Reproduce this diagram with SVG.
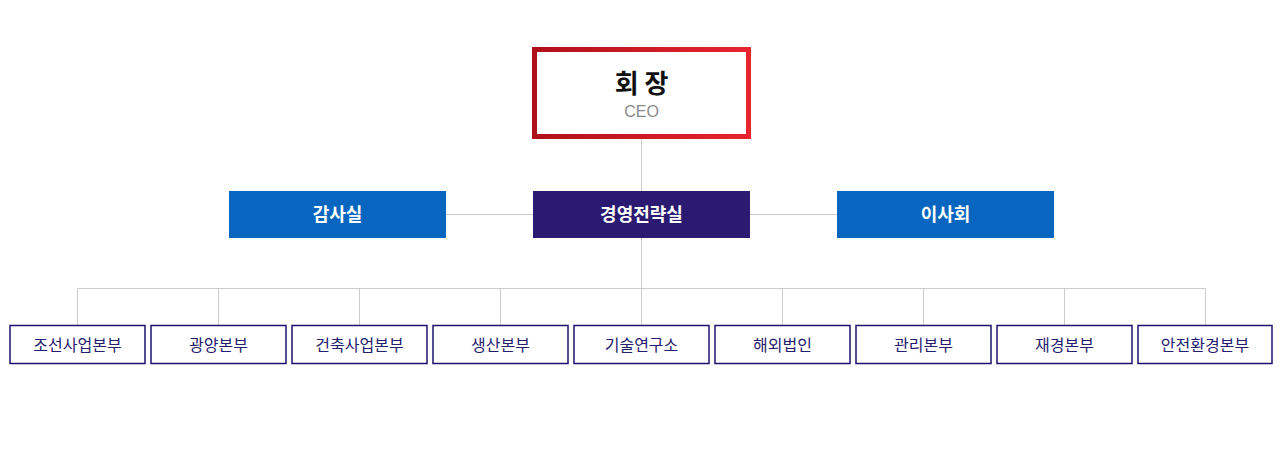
<svg xmlns="http://www.w3.org/2000/svg" width="1280" height="450" viewBox="0 0 1280 450">
<defs>
<linearGradient id="redGrad" x1="0" y1="0" x2="1" y2="0">
<stop offset="0" stop-color="#b0101a"/>
<stop offset="1" stop-color="#e8242f"/>
</linearGradient>
<style>
.ln{stroke:#cccccc;stroke-width:1;fill:none}
.mid{font-family:"Noto Sans CJK KR","Noto Sans",sans-serif;font-weight:700;font-size:18px;fill:#ffffff;text-anchor:middle}
.dept rect{fill:#ffffff;stroke:#1c136e;stroke-width:1.5}
.dept text{font-family:"Noto Sans CJK KR","Noto Sans",sans-serif;font-size:16px;fill:#25206e;text-anchor:middle}
</style>
</defs>
<rect width="1280" height="450" fill="#ffffff"/>
<g id="connectors">
<line class="ln" x1="641.5" y1="139" x2="641.5" y2="288.5"/>
<line class="ln" x1="446" y1="214.5" x2="533" y2="214.5"/>
<line class="ln" x1="750" y1="214.5" x2="837" y2="214.5"/>
<line class="ln" x1="77.5" y1="288.5" x2="1205.5" y2="288.5"/>
<line class="ln" x1="77.5" y1="288.5" x2="77.5" y2="325"/>
<line class="ln" x1="218.5" y1="288.5" x2="218.5" y2="325"/>
<line class="ln" x1="359.5" y1="288.5" x2="359.5" y2="325"/>
<line class="ln" x1="500.5" y1="288.5" x2="500.5" y2="325"/>
<line class="ln" x1="641.5" y1="288.5" x2="641.5" y2="325"/>
<line class="ln" x1="782.5" y1="288.5" x2="782.5" y2="325"/>
<line class="ln" x1="923.5" y1="288.5" x2="923.5" y2="325"/>
<line class="ln" x1="1064.5" y1="288.5" x2="1064.5" y2="325"/>
<line class="ln" x1="1205.5" y1="288.5" x2="1205.5" y2="325"/>
</g>
<g id="ceo">
<rect x="534.5" y="49.5" width="214" height="87" fill="#ffffff" stroke="url(#redGrad)" stroke-width="5"/>
<text x="641.5" y="93" font-family="'Noto Sans CJK KR','Noto Sans',sans-serif" font-weight="700" font-size="26" fill="#111111" text-anchor="middle">회 장</text>
<text x="641.5" y="117" font-family="'Liberation Sans','Noto Sans',sans-serif" font-size="16" fill="#8a8a8a" text-anchor="middle">CEO</text>
</g>
<g id="audit">
<rect x="229" y="191" width="217" height="47" fill="#0866c0"/>
<text class="mid" x="337.5" y="220.5">감사실</text>
</g>
<g id="strategy">
<rect x="533" y="191" width="217" height="47" fill="#2a1a72"/>
<text class="mid" x="641.5" y="220.5">경영전략실</text>
</g>
<g id="board">
<rect x="837" y="191" width="217" height="47" fill="#0866c0"/>
<text class="mid" x="945.5" y="220.5">이사회</text>
</g>
<g id="d1" class="dept"><rect x="10" y="325.5" width="135" height="38"/><text x="77.5" y="350.5">조선사업본부</text></g>
<g id="d2" class="dept"><rect x="151" y="325.5" width="135" height="38"/><text x="218.5" y="350.5">광양본부</text></g>
<g id="d3" class="dept"><rect x="292" y="325.5" width="135" height="38"/><text x="359.5" y="350.5">건축사업본부</text></g>
<g id="d4" class="dept"><rect x="433" y="325.5" width="135" height="38"/><text x="500.5" y="350.5">생산본부</text></g>
<g id="d5" class="dept"><rect x="574" y="325.5" width="135" height="38"/><text x="641.5" y="350.5">기술연구소</text></g>
<g id="d6" class="dept"><rect x="715" y="325.5" width="135" height="38"/><text x="782.5" y="350.5">해외법인</text></g>
<g id="d7" class="dept"><rect x="856" y="325.5" width="135" height="38"/><text x="923.5" y="350.5">관리본부</text></g>
<g id="d8" class="dept"><rect x="997" y="325.5" width="135" height="38"/><text x="1064.5" y="350.5">재경본부</text></g>
<g id="d9" class="dept"><rect x="1138" y="325.5" width="134" height="38"/><text x="1205" y="350.5">안전환경본부</text></g>
</svg>
